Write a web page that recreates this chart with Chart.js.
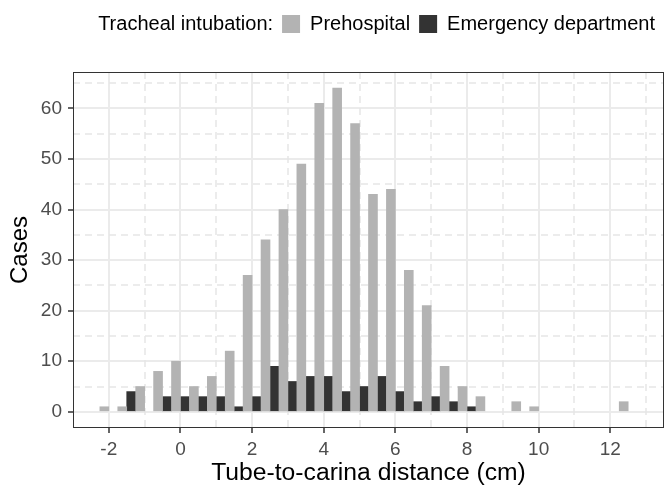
<!DOCTYPE html>
<html lang="en">
<head>
  <meta charset="UTF-8">
  <title>Tube-to-carina distance</title>
  <script src="https://cdn.jsdelivr.net/npm/chart.js"></script>
  <style>
    body { margin: 0; background: #fff; }
    canvas { display: block; }
  </style>
</head>
<body>
  <canvas id="tubeChart" width="667" height="485"></canvas>

<script>
  // bin centres (cm), 0.5 cm bins
  const bins = [-2, -1.5, -1, -0.5, 0, 0.5, 1, 1.5, 2, 2.5, 3, 3.5, 4, 4.5, 5,
                5.5, 6, 6.5, 7, 7.5, 8, 8.5, 9, 9.5, 10, 10.5, 11, 11.5, 12, 12.5];
  const prehospital = [1, 1, 5, 8, 10, 5, 7, 12, 27, 34, 40, 49, 61, 64, 57,
                       43, 44, 28, 21, 9, 5, 3, 0, 2, 1, 0, 0, 0, 0, 2];
  const emergency = [0, 4, 0, 3, 3, 3, 3, 1, 3, 9, 6, 7, 7, 4, 5,
                     7, 4, 2, 3, 2, 1, 0, 0, 0, 0, 0, 0, 0, 0, 0];

  const xTicks = [-2, 0, 2, 4, 6, 8, 10, 12];
  const xMinor = [-1, 1, 3, 5, 7, 9, 11, 13];
  const yTicks = [0, 10, 20, 30, 40, 50, 60];
  const yMinor = [5, 15, 25, 35, 45, 55, 65];

  const legendTitle = 'Tracheal intubation:';
  const gridColor = '#EBEBEB';

  Chart.defaults.font.family = "'Liberation Sans', Arial, sans-serif";

  // empty bins get no bar at all
  const toPoints = counts => bins.map((b, i) => ({ x: b, y: counts[i] === 0 ? null : counts[i] }));

  // dashed minor grid + panel border, like theme_bw
  const panelPlugin = {
    id: 'panel',
    beforeInit(chart) {
      const fit = chart.legend.fit;
      chart.legend.fit = function () {
        fit.call(this);
        this.height = 67;
      };
    },
    beforeDatasetsDraw(chart) {
      const { ctx, chartArea: a, scales } = chart;
      ctx.save();
      ctx.strokeStyle = '#E6E6E6';
      ctx.lineWidth = 1.5;
      ctx.setLineDash([7, 5]);
      xMinor.forEach(v => {
        const px = Math.round(scales.x.getPixelForValue(v));
        if (px < a.left || px > a.right) return;
        ctx.beginPath();
        ctx.moveTo(px, a.top);
        ctx.lineTo(px, a.bottom);
        ctx.stroke();
      });
      yMinor.forEach(v => {
        const py = Math.round(scales.y.getPixelForValue(v));
        if (py < a.top || py > a.bottom) return;
        ctx.beginPath();
        ctx.moveTo(a.left, py);
        ctx.lineTo(a.right, py);
        ctx.stroke();
      });
      ctx.restore();
    },
    afterDatasetsDraw(chart) {
      const { ctx, chartArea: a } = chart;
      ctx.save();
      ctx.strokeStyle = '#333333';
      ctx.lineWidth = 1;
      ctx.strokeRect(a.left + 0.5, a.top + 0.5, a.right - a.left - 1, a.bottom - a.top - 1);
      ctx.restore();
    }
  };

  const ctx = document.getElementById('tubeChart').getContext('2d');

  new Chart(ctx, {
    type: 'bar',
    data: {
      datasets: [
        {
          label: 'Prehospital',
          data: toPoints(prehospital),
          backgroundColor: '#B3B3B3'
        },
        {
          label: 'Emergency department',
          data: toPoints(emergency),
          backgroundColor: '#333333'
        }
      ]
    },
    options: {
      responsive: false,
      animation: false,
      layout: { padding: { top: 5, right: 3, bottom: 0, left: 0 } },
      datasets: {
        bar: { barPercentage: 1, categoryPercentage: 1, borderWidth: 0 }
      },
      plugins: {
        tooltip: { enabled: false },
        legend: {
          position: 'top',
          align: 'end',
          labels: {
            color: '#000',
            font: { size: 20 },
            boxWidth: 18,
            boxHeight: 18,
            padding: 9,
            generateLabels: chart => {
              const items = [{
                text: legendTitle,
                fillStyle: 'rgba(0,0,0,0)',
                strokeStyle: 'rgba(0,0,0,0)',
                lineWidth: 0,
                hidden: false
              }];
              chart.data.datasets.forEach((ds, i) => {
                items.push({
                  text: ds.label,
                  fillStyle: ds.backgroundColor,
                  strokeStyle: ds.backgroundColor,
                  lineWidth: 0,
                  hidden: false,
                  datasetIndex: i
                });
              });
              return items;
            }
          }
        }
      },
      scales: {
        x: {
          type: 'linear',
          min: -3,
          max: 13.5,
          offset: false,
          afterBuildTicks: s => { s.ticks = xTicks.map(v => ({ value: v })); },
          afterFit: s => { s.height = 57; },
          grid: {
            offset: false,
            color: gridColor,
            lineWidth: 2,
            tickColor: '#333333',
            tickLength: 5,
            tickWidth: 1.5
          },
          border: { display: false },
          ticks: {
            color: '#4D4D4D',
            font: { size: 19 },
            padding: 5,
            maxRotation: 0
          },
          title: {
            display: true,
            text: 'Tube-to-carina distance (cm)',
            color: '#000',
            font: { size: 24.7 },
            padding: { top: 0, bottom: -3 }
          }
        },
        y: {
          min: -3.2,
          max: 67.2,
          afterBuildTicks: s => { s.ticks = yTicks.map(v => ({ value: v })); },
          afterFit: s => { s.width = 73; },
          grid: {
            color: gridColor,
            lineWidth: 2,
            tickColor: '#333333',
            tickLength: 5,
            tickWidth: 1.5
          },
          border: { display: false },
          ticks: {
            color: '#4D4D4D',
            font: { size: 19 },
            padding: 6
          },
          title: {
            display: true,
            text: 'Cases',
            color: '#000',
            font: { size: 24 },
            padding: { top: 6, bottom: 0 }
          }
        }
      }
    },
    plugins: [panelPlugin]
  });
</script>

</body>
</html>
